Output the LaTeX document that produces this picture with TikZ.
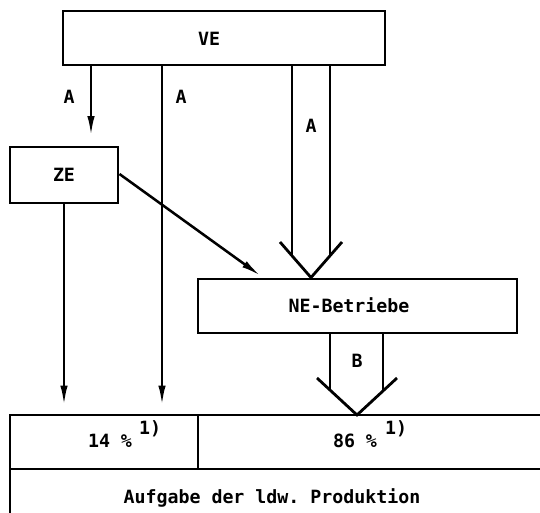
\documentclass[tikz,border=0pt]{standalone}
\usepackage{fontspec}
\setmonofont{DejaVu Sans Mono}
\usetikzlibrary{arrows.meta}
\tikzset{
  blk/.style={draw, line width=2.2pt, inner sep=0pt},
  lbl/.style={inner sep=0pt, font=\ttfamily\bfseries\fontsize{13.7}{16}\selectfont},
  thinarrow/.style={line width=1.9pt, -{Latex[length=15pt,width=5.5pt]}},
  hollow/.style={line width=2.1pt, line join=miter},
}
\begin{document}
\begin{tikzpicture}[x=0.75pt,y=0.75pt,yscale=-1,xscale=1]
\useasboundingbox (0,0) rectangle (540,512);

%Shape: Rectangle [VE]
\node[blk, minimum width=241.5pt, minimum height=40.5pt] (ve) at (224,38) {};
\node[lbl] (veText) at (209,39) {VE};
%Shape: Rectangle [ZE]
\node[blk, lbl, minimum width=81pt, minimum height=42pt] (ze) at (64,175) {ZE};
%Shape: Rectangle [NE-Betriebe]
\node[blk, minimum width=239.25pt, minimum height=40.5pt] (ne) at (357.5,306) {};
\node[lbl] (neText) at (349,305) {NE-Betriebe};

%Shape: Table [bottom]
\coordinate (tabTop) at (10,415);
\coordinate (tabMid) at (10,469);
\draw[line width=2.2pt] (10,540) -- (tabTop) -- (560,415);
\draw[line width=2.2pt] (tabMid) -- (560,469);
\draw[line width=2.2pt] (tabTop -| 198,0) -- (tabMid -| 198,0);
\node[lbl] (pct14) at (110,441) {14 \%};
\node[lbl] (fn14) at (150,429) {1)};
\node[lbl] (pct86) at (355,441) {86 \%};
\node[lbl] (fn86) at (396,429) {1)};
\node[lbl] (aufgabe) at (272,498) {Aufgabe der ldw. Produktion};

%Straight Lines [A arrows]
\draw[thinarrow, shorten >=7pt] (ve.south -| 91,0) -- (ze.north -| 91,0);
\node[lbl] (aZE) at (69,97) {A};
\draw[thinarrow, shorten >=7pt] (ve.south -| 162,0) -- (tabTop -| 162,0);
\node[lbl] (aDirect) at (181,97) {A};
\draw[thinarrow, shorten >=7pt] (ze.south) -- (tabTop -| ze.south);
\draw[thinarrow, shorten >=2pt] (ze.east |- 0,174) -- (ne.north -| 263,0);

%Shape: Hollow arrow [A]
\coordinate (tipA) at (ne.north -| 311,0);
\draw[hollow] (ve.south -| 292,0) -- (292,256);
\draw[hollow] (ve.south -| 330,0) -- (330,256);
\draw[hollow] (280,242) -- (tipA) -- (342,242);
\node[lbl] (aNE) at (311,126) {A};

%Shape: Hollow arrow [B]
\coordinate (tipB) at (tabTop -| 357,0);
\draw[hollow] (ne.south -| 330,0) -- (330,390);
\draw[hollow] (ne.south -| 383,0) -- (383,391);
\draw[hollow] (317,378) -- (tipB) -- (397,378);
\node[lbl] (bLbl) at (357,361) {B};

\end{tikzpicture}
\end{document}
